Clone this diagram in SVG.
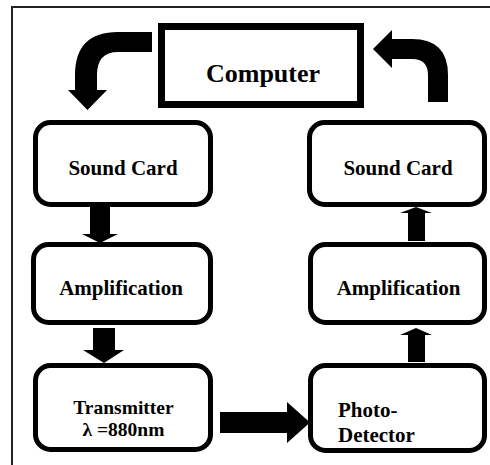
<svg xmlns="http://www.w3.org/2000/svg" width="490" height="465" viewBox="0 0 490 465">
<style>
.frame{fill:none;stroke:#222;stroke-width:2}
.box{fill:#fff;stroke:#000;stroke-width:5}
.comp{fill:#fff;stroke:#000;stroke-width:7}
.arr{fill:#000;stroke:none}
.t{font-family:Liberation Serif, Times New Roman, serif;font-weight:700;fill:#000}
.lbl{font-size:21px;text-anchor:middle}
</style>
<rect width="490" height="465" fill="#fff"/>
<rect class="frame" x="12" y="7" width="500" height="500"/>
<g id="computer">
<rect class="comp" x="161.5" y="26.5" width="199" height="78"/>
<text class="t" x="263" y="82" font-size="26" text-anchor="middle">Computer</text>
</g>
<g id="soundcard-left">
<rect class="box" x="35.5" y="122.5" width="175" height="82" rx="15"/>
<text class="t lbl" x="123" y="175">Sound Card</text>
</g>
<g id="amplification-left">
<rect class="box" x="33.5" y="244.5" width="177" height="78" rx="15"/>
<text class="t lbl" x="121" y="295">Amplification</text>
</g>
<g id="transmitter">
<rect class="box" x="35.5" y="365.5" width="175" height="84" rx="15"/>
<text class="t" x="123.5" y="414" font-size="19.5" text-anchor="middle">Transmitter</text>
<text class="t" x="123.5" y="436" font-size="19.5" text-anchor="middle">λ =880nm</text>
</g>
<g id="soundcard-right">
<rect class="box" x="309.5" y="122.5" width="175" height="82" rx="15"/>
<text class="t lbl" x="398" y="175">Sound Card</text>
</g>
<g id="amplification-right">
<rect class="box" x="310.5" y="244.5" width="174" height="78" rx="15"/>
<text class="t lbl" x="398.5" y="295">Amplification</text>
</g>
<g id="photodetector">
<rect class="box" x="310.5" y="365.5" width="174" height="85" rx="15"/>
<text class="t" x="338" y="417" font-size="21">Photo-</text>
<text class="t" x="338" y="442" font-size="21">Detector</text>
</g>
<g id="connectors">
<path class="arr" d="M152,32 L118,32 Q75,32 75,75 L75,90 L68,90 L87.5,110 L107,90 L97,90 L97,75 Q97,52 118,52 L152,52 Z"/>
<path class="arr" d="M428,102 L448,102 L448,75 Q448,39 412,39 L392,39 L392,30 L373,49 L392,68 L392,59 L412,59 Q428,59 428,75 Z"/>
<path class="arr" d="M90,207 L110,207 L110,234 L118,234 L100,243 L82,234 L90,234 Z"/>
<path class="arr" d="M93,328 L115,328 L115,350 L124,350 L104,363 L83,350 L93,350 Z"/>
<path class="arr" d="M220,412 L287,412 L287,402 L310,422.5 L287,443 L287,433 L220,433 Z"/>
<path class="arr" d="M408,241 L425,241 L425,213 L432,213 L416,207 L400,213 L408,213 Z"/>
<path class="arr" d="M408,362 L425,362 L425,335 L432,335 L416,328 L400,335 L408,335 Z"/>
</g>
</svg>
